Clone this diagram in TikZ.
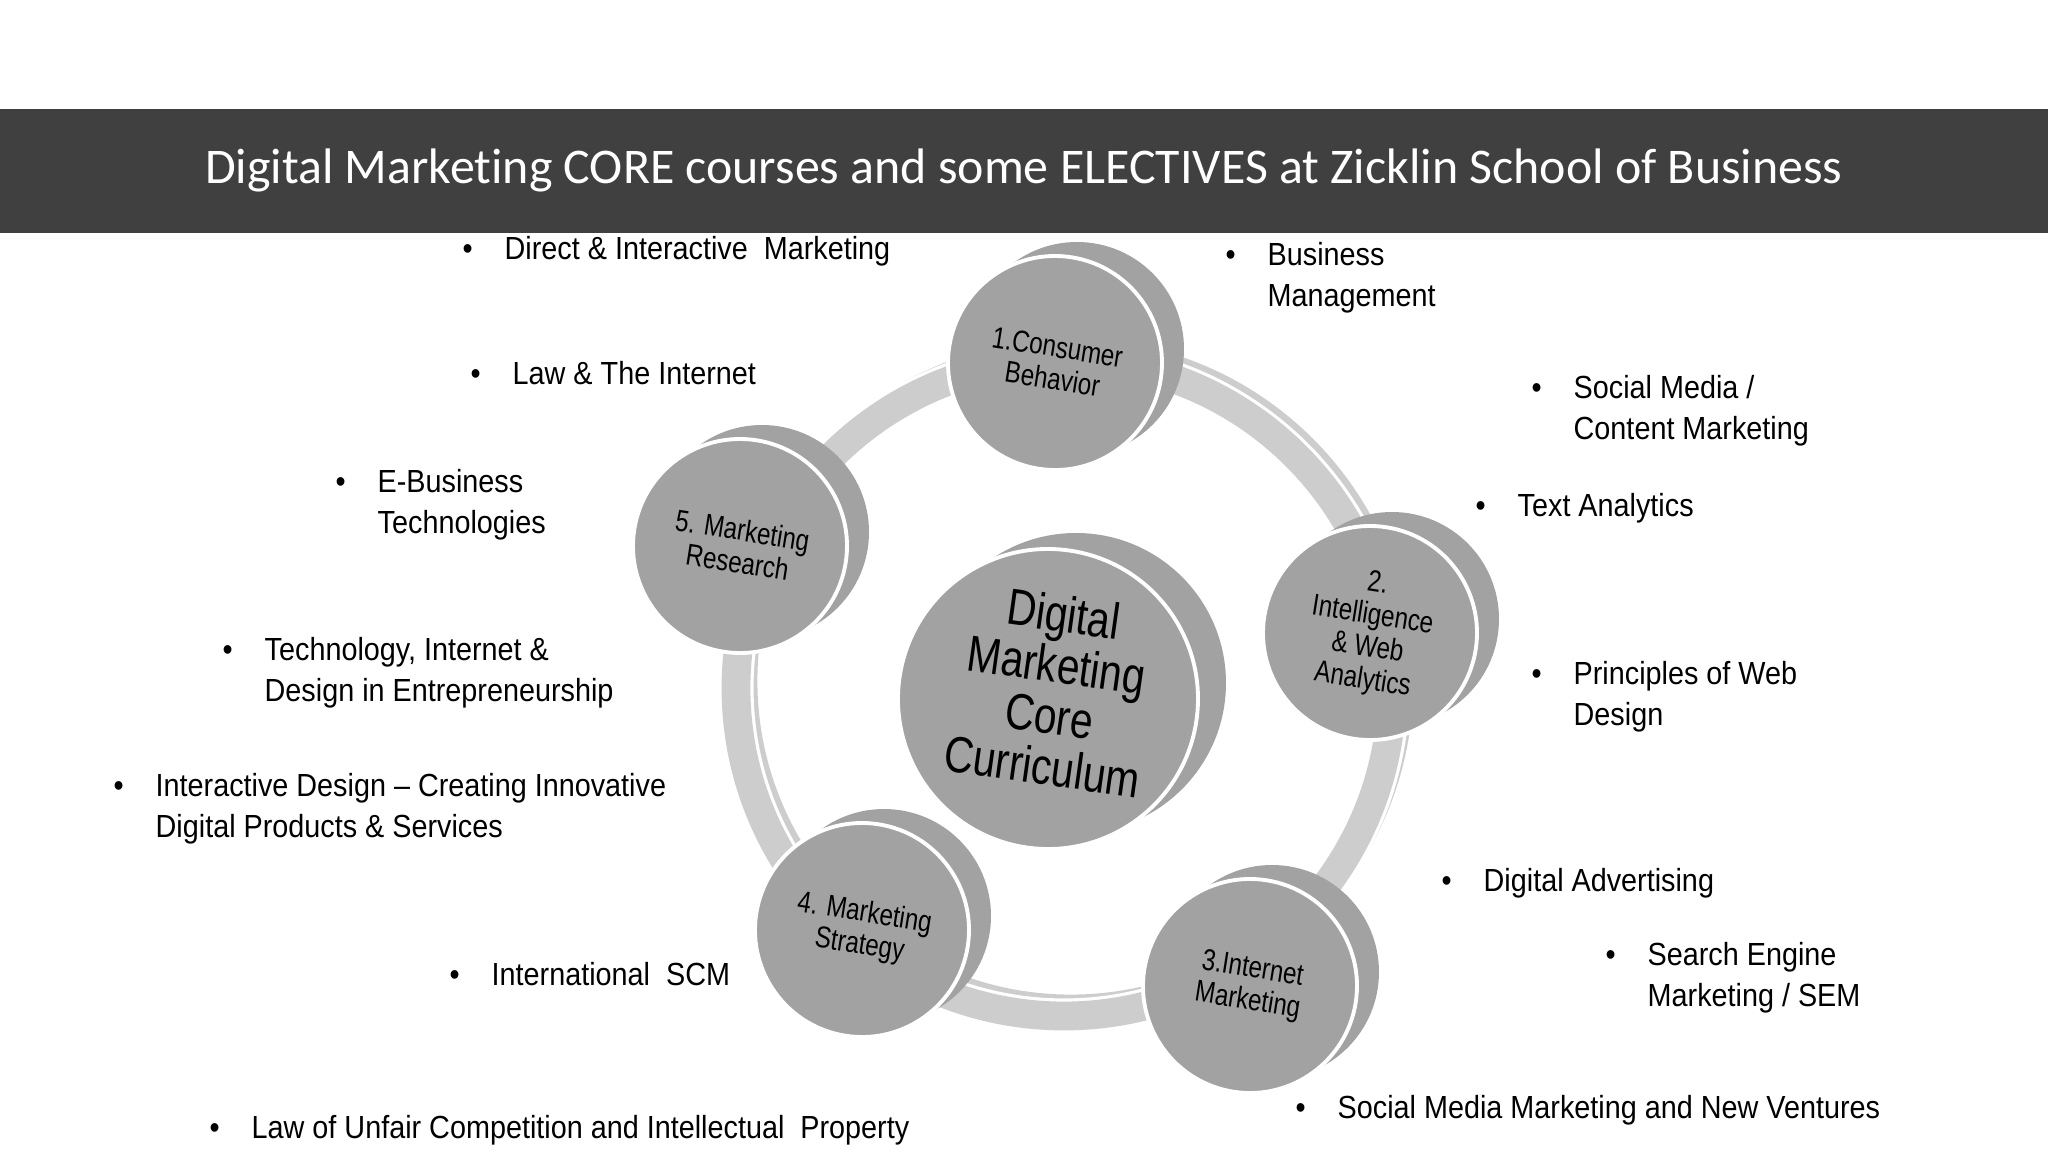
\documentclass[tikz,border=0pt]{standalone}
\usepackage{fontspec}
\setmainfont{Liberation Sans}
\newfontfamily\titlefont[Ligatures=NoCommon]{Carlito}
\newfontfamily\itemfont[FakeStretch=0.9]{Liberation Sans}
\newfontfamily\diskfont[FakeStretch=0.8]{Liberation Sans}
\usetikzlibrary{positioning}

\definecolor{bargray}{HTML}{404040}
\definecolor{diskgray}{HTML}{A2A2A2}
\definecolor{ringgray}{HTML}{CDCDCD}

\newcommand{\courserows}[1]{\begin{tabular}{@{}p{0.42cm}@{}l@{}}#1\end{tabular}}

\tikzset{
  ringband/.style={draw=ringgray, line width=8.2pt},
  ringedge/.style={draw=white, line width=10pt},
  diskback/.style={circle, fill=diskgray, inner sep=0pt, minimum size=2.14cm},
  disk/.style={circle, fill=diskgray, draw=white, line width=1.1pt, inner sep=0pt,
    minimum size=2.14cm, align=center, rotate=-9, text=black,
    font=\diskfont\fontsize{8.6}{9.2}\selectfont},
  corebox/.style={disk, minimum size=3.0cm, rotate=1},
  elective/.style={anchor=west, inner sep=0pt,
    font=\itemfont\fontsize{9.1}{11.5}\selectfont}
}

\begin{document}
\begin{tikzpicture}
  \useasboundingbox (0,0) rectangle (20.48,-11.52);
  \fill[white] (0,0) rectangle (20.48,-11.52);

  % title bar
  \fill[bargray] (0,-1.09) rectangle (20.48,-2.33);
  \node[text=white, font=\titlefont\fontsize{14.2}{17}\selectfont] (title) at (10.24,-1.70)
    {Digital Marketing CORE courses and some ELECTIVES at Zicklin School of Business};

  % ring
  \coordinate (ringc) at (10.64,-6.88);
  \draw[ringband] ([shift={(0.07,0.07)}]ringc) circle[radius=3.28];
  \draw[ringedge] (ringc) circle[radius=3.28];
  \draw[ringband] (ringc) circle[radius=3.28];

  % disk positions
  \coordinate (p1) at (10.55,-3.63);
  \coordinate (p2) at (13.70,-6.33);
  \coordinate (p3) at (12.50,-9.86);
  \coordinate (p4) at (8.62,-9.30);
  \coordinate (p5) at (7.40,-5.46);
  \coordinate (p0) at (10.48,-6.99);

  % back of the disks
  \foreach \p in {p1,p2,p3,p4,p5}
    \node[diskback] at ([shift={(0.22,0.14)}]\p) {};
  \node[diskback, minimum size=3.0cm] at ([shift={(0.28,0.16)}]p0) {};

  % front of the disks
  \node[disk] (consumer) at (p1) {1.Consumer\\Behavior};
  \node[disk] (analytics) at (p2) {2.\\Intelligence\\\& Web\\Analytics};
  \node[disk] (internet) at (p3) {3.Internet\\Marketing};
  \node[disk] (strategy) at (p4) {4. Marketing\\Strategy};
  \node[disk] (research) at (p5) {5. Marketing\\Research};
  \node[corebox] (core) at (p0) {};
  \node[rotate=-8, align=center, text=black, inner sep=0pt,
    font=\diskfont\fontsize{14.5}{14.6}\selectfont] (coretext) at (10.53,-6.90)
    {Digital\\Marketing\\Core\\Curriculum};

  % electives, left side
  \node[elective] (directmkt) at (4.62,-2.51) {\courserows{\textbullet & Direct \& Interactive\ \ Marketing}};
  \node[elective] (lawnet) at (4.70,-3.76) {\courserows{\textbullet & Law \& The Internet}};
  \node[elective] (ebusiness) at (3.35,-5.05) {\courserows{\textbullet & E-Business\\ & Technologies}};
  \node[elective] (techdesign) at (2.22,-6.73) {\courserows{\textbullet & Technology, Internet \&\\ & Design in Entrepreneurship}};
  \node[elective] (interdesign) at (1.13,-8.09) {\courserows{\textbullet & Interactive\ Design \textendash\ Creating Innovative\\ & Digital Products \& Services}};
  \node[elective] (scm) at (4.49,-9.77) {\courserows{\textbullet & International\ \ SCM}};
  \node[elective] (unfair) at (2.09,-11.30) {\courserows{\textbullet & Law of Unfair Competition and Intellectual\ \ Property}};

  % electives, right side
  \node[elective] (busmgmt) at (12.25,-2.78) {\courserows{\textbullet & Business\\ & Management}};
  \node[elective] (socialcontent) at (15.31,-4.11) {\courserows{\textbullet & Social Media /\\ & Content Marketing}};
  \node[elective] (textan) at (14.75,-5.08) {\courserows{\textbullet & Text Analytics}};
  \node[elective] (webdesign) at (15.31,-6.97) {\courserows{\textbullet & Principles of Web\\ & Design}};
  \node[elective] (digitalad) at (14.41,-8.83) {\courserows{\textbullet & Digital Advertising}};
  \node[elective] (sem) at (16.05,-9.78) {\courserows{\textbullet & Search Engine\\ & Marketing / SEM}};
  \node[elective] (ventures) at (12.95,-11.10) {\courserows{\textbullet & Social Media Marketing and New Ventures}};
\end{tikzpicture}
\end{document}
